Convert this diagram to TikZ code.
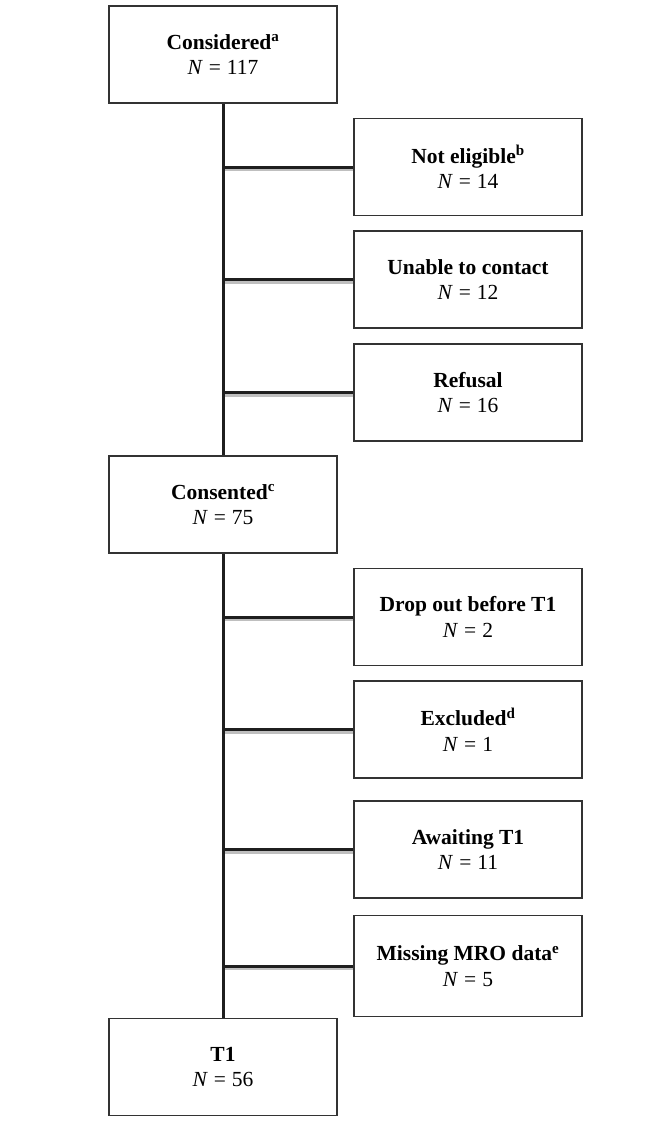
\documentclass[tikz,border=0pt]{standalone}
\usepackage{fontspec}
\setmainfont{Liberation Serif}

\begin{document}
\begin{tikzpicture}[x=1pt,y=-1pt,
    boxstyle/.style={draw=black!80,line width=1.2pt,minimum width=228pt,minimum height=97pt,
        inner sep=0pt,align=center,font=\fontsize{21.5}{25.5}\selectfont},
    linestyle/.style={line width=3pt,black!88},
    shadowstyle/.style={line width=2.5pt,black!25}]

    \useasboundingbox (0,0) rectangle (655,1122);

    \node[boxstyle] (cons) at (223,54.5) {\textbf{Considered}\textsuperscript{\textbf{a}}\\ \textit{N}\;=\;117};
    \node[boxstyle] (nel) at (468,167) {\textbf{Not eligible}\textsuperscript{\textbf{b}}\\ \textit{N}\;=\;14};
    \node[boxstyle] (utc) at (468,279.5) {\textbf{Unable to contact}\\ \textit{N}\;=\;12};
    \node[boxstyle] (ref) at (468,392.5) {\textbf{Refusal}\\ \textit{N}\;=\;16};
    \node[boxstyle] (cst) at (223,504.5) {\textbf{Consented}\textsuperscript{\textbf{c}}\\ \textit{N}\;=\;75};
    \node[boxstyle] (dro) at (468,617) {\textbf{Drop out before T1}\\ \textit{N}\;=\;2};
    \node[boxstyle] (exc) at (468,729.5) {\textbf{Excluded}\textsuperscript{\textbf{d}}\\ \textit{N}\;=\;1};
    \node[boxstyle] (awt) at (468,849.5) {\textbf{Awaiting T1}\\ \textit{N}\;=\;11};
    \node[boxstyle,minimum height=101pt] (mis) at (468,966) {\textbf{Missing MRO data}\textsuperscript{\textbf{e}}\\ \textit{N}\;=\;5};
    \node[boxstyle] (tone) at (223,1067) {\textbf{T1}\\ \textit{N}\;=\;56};

    \draw[shadowstyle] ([yshift=-3pt]nel.west -| cons.south) -- ([yshift=-3pt]nel.west);
    \draw[shadowstyle] ([yshift=-3pt]utc.west -| cons.south) -- ([yshift=-3pt]utc.west);
    \draw[shadowstyle] ([yshift=-3pt]ref.west -| cons.south) -- ([yshift=-3pt]ref.west);
    \draw[shadowstyle] ([yshift=-3pt]dro.west -| cst.south) -- ([yshift=-3pt]dro.west);
    \draw[shadowstyle] ([yshift=-3pt]exc.west -| cst.south) -- ([yshift=-3pt]exc.west);
    \draw[shadowstyle] ([yshift=-3pt]awt.west -| cst.south) -- ([yshift=-3pt]awt.west);
    \draw[shadowstyle] ([yshift=-3pt]mis.west -| cst.south) -- ([yshift=-3pt]mis.west);

    \draw[linestyle] (cons.south) -- (cst.north);
    \draw[linestyle] (cst.south) -- (tone.north);

    \draw[linestyle] (nel.west -| cons.south) -- (nel.west);
    \draw[linestyle] (utc.west -| cons.south) -- (utc.west);
    \draw[linestyle] (ref.west -| cons.south) -- (ref.west);
    \draw[linestyle] (dro.west -| cst.south) -- (dro.west);
    \draw[linestyle] (exc.west -| cst.south) -- (exc.west);
    \draw[linestyle] (awt.west -| cst.south) -- (awt.west);
    \draw[linestyle] (mis.west -| cst.south) -- (mis.west);

\end{tikzpicture}
\end{document}
